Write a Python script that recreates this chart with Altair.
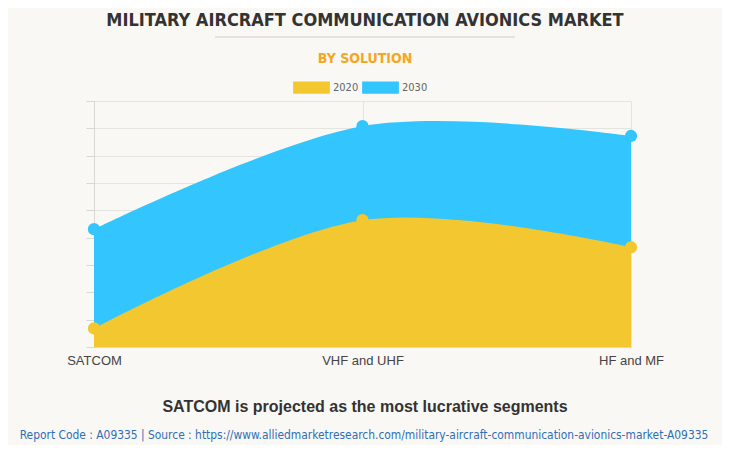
import altair as alt
import pandas as pd

# ---- data ----
segments = ["SATCOM", "VHF and UHF", "HF and MF"]
years = ["2020", "2030"]
values_2020 = [68, 464, 365]
values_2030 = [431, 808, 772]

title_text = "MILITARY AIRCRAFT COMMUNICATION AVIONICS MARKET"
subtitle_text = "BY SOLUTION"
footer_text = "SATCOM is projected as the most lucrative segments"
source_text = "Report Code : A09335  |  Source : https://www.alliedmarketresearch.com/military-aircraft-communication-avionics-market-A09335"

colors = ["#F2C72F", "#33C5FE"]
BG = "#F9F8F4"
NARROW = "DejaVu Sans Condensed, Liberation Sans, sans-serif"

rows = []
for s, v in zip(segments, values_2020):
    rows.append({"segment": s, "year": "2020", "value": v})
for s, v in zip(segments, values_2030):
    rows.append({"segment": s, "year": "2030", "value": v})
df = pd.DataFrame(rows)

W, H = 537, 246

x_enc = alt.X("segment:N", sort=segments,
              scale=alt.Scale(type="point", padding=0),
              axis=alt.Axis(title=None, labelAngle=0, ticks=False, grid=True,
                            gridColor="#E6E4DF", domainColor="#D9D7D2",
                            labelFont="Liberation Sans", labelFontSize=13,
                            labelColor="#444444", labelPadding=7))
y_enc = alt.Y("value:Q", stack=None,
              scale=alt.Scale(domain=[0, 900], nice=False),
              axis=alt.Axis(title=None, labels=False, values=list(range(0, 901, 100)),
                            grid=True, gridColor="#E6E4DF", tickColor="#D9D7D2",
                            tickSize=8, domainColor="#D9D7D2"))
color_enc = alt.Color("year:N",
                      scale=alt.Scale(domain=years, range=colors),
                      legend=alt.Legend(title=None, orient="none", direction="horizontal",
                                        legendX=205, legendY=-26,
                                        symbolType="M-1.5,-0.5H1.5V0.5H-1.5Z",
                                        symbolSize=600, symbolStrokeWidth=0,
                                        symbolOpacity=1,
                                        labelOffset=9, columnPadding=3,
                                        labelFont=NARROW,
                                        labelFontSize=11, labelColor="#666666"))

base = alt.Chart(df)

area_2030 = base.transform_filter(alt.datum.year == "2030").mark_area(
    interpolate="cardinal", opacity=1).encode(x=x_enc, y=y_enc, color=color_enc)
area_2020 = base.transform_filter(alt.datum.year == "2020").mark_area(
    interpolate="cardinal", opacity=1).encode(x=x_enc, y=y_enc, color=color_enc)
pts = base.mark_circle(size=150, opacity=1).encode(x=x_enc, y=y_enc, color=color_enc)

def text_layer(txt, x, y, size, color, weight="normal", font="Liberation Sans"):
    return alt.Chart(pd.DataFrame({"t": [txt]})).mark_text(
        font=font, fontSize=size, fontWeight=weight, color=color,
        align="center", baseline="middle").encode(
        text="t:N", x=alt.value(x), y=alt.value(y))

title = text_layer(title_text, 271, -80, 18, "#333333", "bold", NARROW)
underline = alt.Chart(pd.DataFrame({"a": [0]})).mark_rule(color="#CFCDC8", strokeWidth=1).encode(
    x=alt.value(121), x2=alt.value(421), y=alt.value(-64))
subtitle = text_layer(subtitle_text, 271, -42, 14, "#F5A623", "bold", NARROW)
footer = text_layer(footer_text, 271, 306, 16, "#333333", "bold", "Liberation Sans")
source = text_layer(source_text, 270, 334, 11.9, "#2F6FB7", "normal", NARROW)

chart = alt.layer(area_2030, area_2020, pts, title, underline, subtitle, footer, source).properties(
    width=W, height=H,
    autosize=alt.AutoSizeParams(type="none"),
    padding={"left": 86, "top": 93, "right": 91, "bottom": 98},
    background=BG,
).configure_view(stroke=None)

chart.save("out.html", embed_options={"renderer": "svg", "actions": False})
